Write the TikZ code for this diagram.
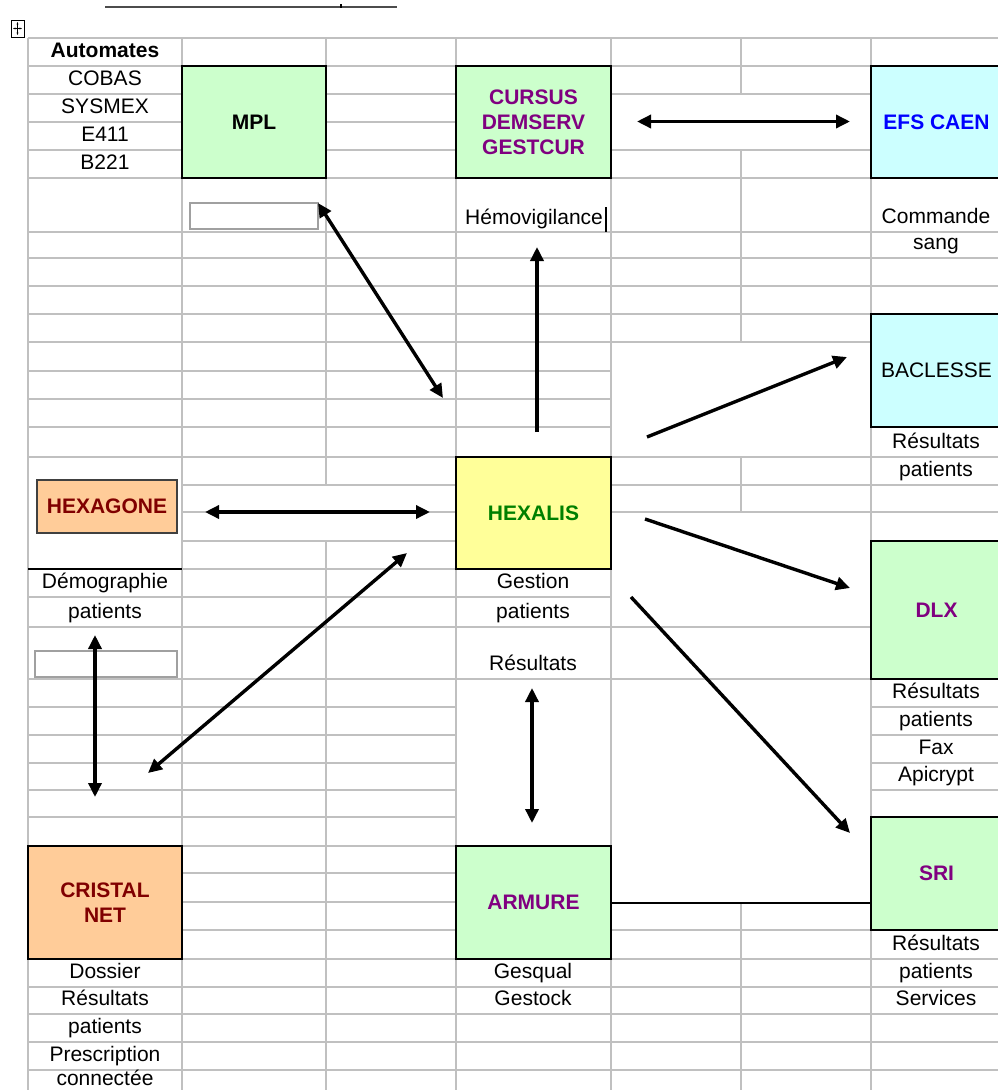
\documentclass[tikz,border=0pt]{standalone}
\usepackage{fontspec}
\setmainfont{Liberation Sans}
\usetikzlibrary{arrows.meta}
\definecolor{gridc}{RGB}{192,192,192}
\definecolor{lgreen}{RGB}{204,255,204}
\definecolor{lcyan}{RGB}{204,255,255}
\definecolor{lyellow}{RGB}{255,255,153}
\definecolor{lorange}{RGB}{255,204,153}
\definecolor{tpurple}{RGB}{128,0,128}
\definecolor{tred}{RGB}{128,0,0}
\definecolor{tgreen}{RGB}{0,128,0}
\definecolor{tblue}{RGB}{0,0,255}
\definecolor{ebox}{RGB}{160,160,160}
\newcommand\cellfont{\fontsize{21}{25}\selectfont}
\begin{document}
\begin{tikzpicture}[x=1pt,y=-1pt,
  gridline/.style={draw=gridc,line width=1.4pt},
  sysbox/.style={draw=black,line width=1.8pt,inner sep=0pt,outer sep=0pt,align=center,font=\cellfont\bfseries},
  celltext/.style={inner sep=0pt,anchor=base,font=\cellfont},
  emptybox/.style={draw=ebox,line width=1.6pt,fill=white,inner sep=0pt,outer sep=0pt},
  link/.style={line width=3.4pt,-{Triangle[length=14pt,width=13pt]}},
  biglink/.style={line width=3.4pt,{Triangle[length=14pt,width=13pt]}-{Triangle[length=14pt,width=13pt]}}
]
\useasboundingbox (0,0) rectangle (998,1090);
\fill[white] (0,0) rectangle (998,1090);

% top rule and handle
\draw[line width=2pt,black!70] (105,7) -- (397,7);
\draw[line width=2pt] (341,4) -- (341,8);
\draw[line width=1pt] (11,20) rectangle (24,37);
\draw[line width=0.8pt,{Stealth[length=2.5pt]}-{Stealth[length=2.5pt]}] (13,28.5) -- (22,28.5);
\draw[line width=0.8pt,{Stealth[length=2.5pt]}-{Stealth[length=2.5pt]}] (17.5,22) -- (17.5,35);

% horizontal grid lines
\foreach \y in {38,66,94,150,178,232,258,286,314,342,457,627,679,930,959,987,1014,1042,1070}
  \draw[gridline] (28,\y) -- (998,\y);
\foreach \y in {122,371,399,427,597}
  {\draw[gridline] (28,\y) -- (611,\y); \draw[gridline] (871,\y) -- (998,\y);}
\foreach \y in {485,512}
  \draw[gridline] (182,\y) -- (998,\y);
\foreach \y in {541,569}
  {\draw[gridline] (182,\y) -- (611,\y); \draw[gridline] (871,\y) -- (998,\y);}
\foreach \y in {707,735,763,790,817,846,873}
  {\draw[gridline] (28,\y) -- (456,\y); \draw[gridline] (871,\y) -- (998,\y);}
\draw[gridline] (28,902) -- (611,902);
\draw[gridline] (871,902) -- (998,902);

% vertical grid lines
\foreach \x in {28,182,456,611,871}
  \draw[gridline] (\x,38) -- (\x,1090);
\draw[gridline] (326,38) -- (326,485);
\draw[gridline] (326,541) -- (326,1090);
\draw[gridline] (741,38) -- (741,94);
\draw[gridline] (741,150) -- (741,342);
\draw[gridline] (741,457) -- (741,512);
\draw[gridline] (741,902) -- (741,1090);

% dark cell border under HEXAGONE area
\draw[line width=1.8pt] (28,569) -- (182,569);

% system boxes
\node[sysbox,fill=lgreen,minimum width=144pt,minimum height=112pt] (mpl) at (254,122) {MPL};
\node[sysbox,fill=lgreen,text=tpurple,minimum width=155pt,minimum height=112pt] (cursus) at (533.5,122) {CURSUS\\DEMSERV\\GESTCUR};
\node[sysbox,fill=lcyan,text=tblue,minimum width=131pt,minimum height=112pt] (efs) at (936.5,122) {EFS CAEN};
\node[sysbox,fill=lcyan,font=\cellfont,minimum width=131pt,minimum height=113pt] (baclesse) at (936.5,370.5) {BACLESSE};
\node[sysbox,fill=lyellow,text=tgreen,minimum width=155pt,minimum height=112pt] (hexalis) at (533.5,513) {HEXALIS};
\node[sysbox,draw=black!75,line width=1.6pt,fill=lorange,text=tred,minimum width=140pt,minimum height=53pt] (hexagone) at (107,506.5) {HEXAGONE};
\node[sysbox,fill=lgreen,text=tpurple,minimum width=131pt,minimum height=138pt] (dlx) at (936.5,610) {DLX};
\node[sysbox,fill=lgreen,text=tpurple,minimum width=131pt,minimum height=113pt] (sri) at (936.5,873.5) {SRI};
\node[sysbox,fill=lorange,text=tred,minimum width=154pt,minimum height=113pt] (cristal) at (105,902.5) {CRISTAL\\NET};
\node[sysbox,fill=lgreen,text=tpurple,minimum width=155pt,minimum height=113pt] (armure) at (533.5,902.5) {ARMURE};

% line between ARMURE and SRI
\draw[line width=2pt] (armure.east) -- (armure.east -| sri.west);

% empty text boxes
\node[emptybox,minimum width=128pt,minimum height=26pt] (eb1) at (254,216) {};
\node[emptybox,minimum width=142pt,minimum height=26pt] (eb2) at (106,664) {};

% cell texts
\node[celltext] (tauto) at (105,57.5) {\bfseries Automates};
\node[celltext] (tcobas) at (105,85.5) {COBAS};
\node[celltext] (tsysmex) at (105,113.5) {SYSMEX};
\node[celltext] (te411) at (105,141.5) {E411};
\node[celltext] (tb221) at (105,169.5) {B221};
\node[celltext,anchor=base west] (themo) at (465,224) {Hémovigilance};
\draw[line width=2.5pt] (606,207) -- (606,232);
\node[celltext] (tcmd) at (936,223.5) {Commande};
\node[celltext] (tsang) at (936,249.5) {sang};
\node[celltext] (tbres) at (936,448.5) {Résultats};
\node[celltext] (tbpat) at (936,476.5) {patients};
\node[celltext] (tdemo) at (105,588.5) {Démographie};
\node[celltext] (tdpat) at (105,618.5) {patients};
\node[celltext] (tgest) at (533,588.5) {Gestion};
\node[celltext] (tgpat) at (533,618.5) {patients};
\node[celltext] (thres) at (533,670.5) {Résultats};
\node[celltext] (tdres) at (936,698.5) {Résultats};
\node[celltext] (tdpat2) at (936,726.5) {patients};
\node[celltext] (tfax) at (936,754.5) {Fax};
\node[celltext] (tapi) at (936,781.5) {Apicrypt};
\node[celltext] (tdos) at (105,978.5) {Dossier};
\node[celltext] (tcres) at (105,1005.5) {Résultats};
\node[celltext] (tcpat) at (105,1033.5) {patients};
\node[celltext] (tpresc) at (105,1061.5) {Prescription};
\node[celltext] (tconn) at (105,1085) {connectée};
\node[celltext] (tgesq) at (533,978.5) {Gesqual};
\node[celltext] (tgesk) at (533,1005.5) {Gestock};
\node[celltext] (tsres) at (936,950.5) {Résultats};
\node[celltext] (tspat) at (936,978.5) {patients};
\node[celltext] (tserv) at (936,1005.5) {Services};

% arrow end points
\coordinate (a1s) at (318,203);  \coordinate (a1e) at (443,398);
\coordinate (a2s) at (637,121.5); \coordinate (a2e) at (850,121.5);
\coordinate (a3s) at (537,432);  \coordinate (a3e) at (537,247);
\coordinate (a4s) at (647,437);  \coordinate (a4e) at (847,357);
\coordinate (a5s) at (205,512);  \coordinate (a5e) at (430,512);
\coordinate (a6s) at (645,519);  \coordinate (a6e) at (850,588);
\coordinate (a7s) at (631,597);  \coordinate (a7e) at (850,833);
\coordinate (a8s) at (148,773);  \coordinate (a8e) at (407,553);
\coordinate (a9s) at (95,635);   \coordinate (a9e) at (95,797);
\coordinate (a10s) at (532,688); \coordinate (a10e) at (532,823);

% arrows
\draw[biglink] (a1s) -- (a1e);
\draw[biglink] (a2s) -- (a2e);
\draw[link] (a3s) -- (a3e);
\draw[link] (a4s) -- (a4e);
\draw[biglink] (a5s) -- (a5e);
\draw[link] (a6s) -- (a6e);
\draw[link] (a7s) -- (a7e);
\draw[biglink] (a8s) -- (a8e);
\draw[biglink] (a9s) -- (a9e);
\draw[biglink] (a10s) -- (a10e);
\end{tikzpicture}
\end{document}
